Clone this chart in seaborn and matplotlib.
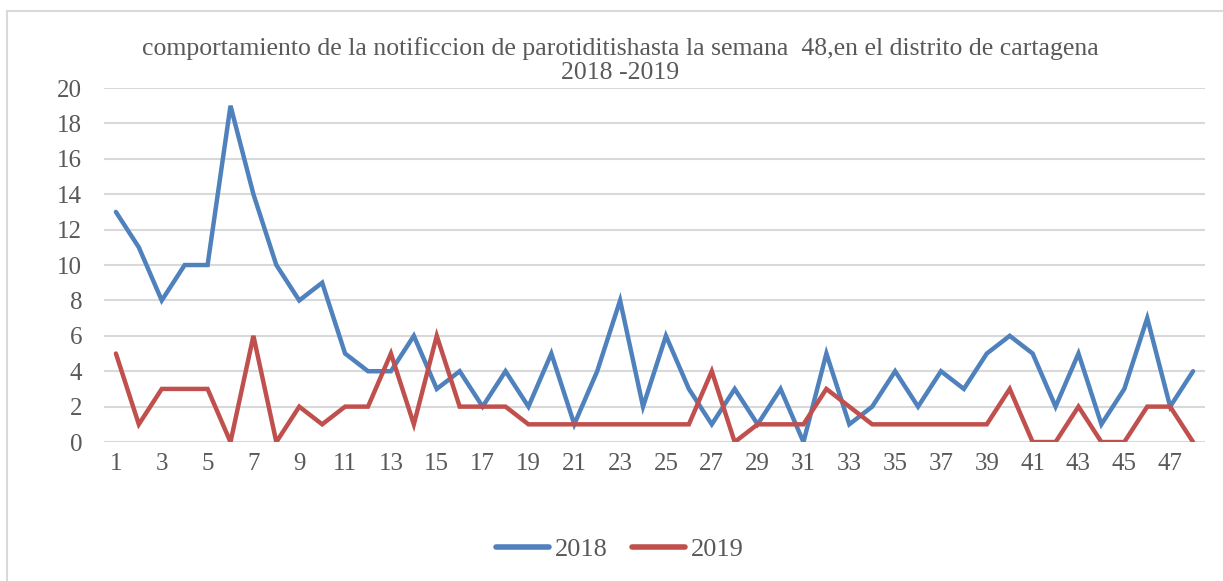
import pandas as pd
import matplotlib.pyplot as plt
from matplotlib.patches import Rectangle
from matplotlib.lines import Line2D
import seaborn as sns

# semanas epidemiologicas y casos notificados
semanas = list(range(1, 49))
casos_2018 = [13, 11, 8, 10, 10, 19, 14, 10, 8, 9, 5, 4, 4, 6, 3, 4, 2, 4, 2, 5, 1, 4, 8, 2,
              6, 3, 1, 3, 1, 3, 0, 5, 1, 2, 4, 2, 4, 3, 5, 6, 5, 2, 5, 1, 3, 7, 2, 4]
casos_2019 = [5, 1, 3, 3, 3, 0, 6, 0, 2, 1, 2, 2, 5, 1, 6, 2, 2, 2, 1, 1, 1, 1, 1, 1,
              1, 1, 4, 0, 1, 1, 1, 3, 2, 1, 1, 1, 1, 1, 1, 3, 0, 0, 2, 0, 0, 2, 2, 0]
anios = ['2018', '2019']
xticks = list(range(1, 48, 2))
yticks = list(range(0, 21, 2))

titulo = ("comportamiento de la notificcion de parotiditishasta la semana  48,en el distrito de cartagena\n"
          "2018 -2019")

df = pd.DataFrame({
    'semana': semanas * 2,
    'casos': casos_2018 + casos_2019,
    'anio': [anios[0]] * 48 + [anios[1]] * 48,
})

sns.set_style("white")
plt.rcParams['font.family'] = ['Liberation Serif', 'DejaVu Serif']
gris = '#595959'
colores = ['#4F81BD', '#C0504D']

fig = plt.figure(figsize=(12.23, 5.81), dpi=100)
ax = fig.add_axes([0.0854, 0.2392, 0.8995, 0.6093])

# borde del grafico
fig.patches.append(Rectangle((7 / 1223, -0.05), 1.1, 1 - 11 / 581 + 0.05, transform=fig.transFigure,
                             fill=False, edgecolor='#D9D9D9', lw=1.5))

sns.lineplot(data=df, x='semana', y='casos', hue='anio', palette=colores,
             lw=3.2, ax=ax, legend=False, solid_capstyle='round', solid_joinstyle='miter')

ax.set_xlim(0.5, 48.5)
ax.set_ylim(0, 20)
ax.set_xticks(xticks)
ax.set_yticks(yticks)
ax.yaxis.grid(True, color='#D9D9D9', lw=1.5)
ax.set_axisbelow(True)
for s in ax.spines.values():
    s.set_visible(False)
ax.tick_params(axis='both', labelsize=18, colors=gris, length=0)
ax.tick_params(axis='y', pad=16)
ax.tick_params(axis='x', pad=8)
ax.set_xlabel('')
ax.set_ylabel('')

fig.text(0.507, 0.896, titulo, ha='center', va='center', fontsize=18.5, color=gris, linespacing=1.15)

handles = [Line2D([], [], color=c, lw=4, solid_capstyle='round') for c in colores]
fig.legend(handles, anios, loc='center', bbox_to_anchor=(0.507, 0.055), ncol=2, frameon=False,
           fontsize=19, labelcolor=gris, handlelength=2.0, handletextpad=0.25, columnspacing=0.9)

fig.savefig('out.png', dpi=100)
